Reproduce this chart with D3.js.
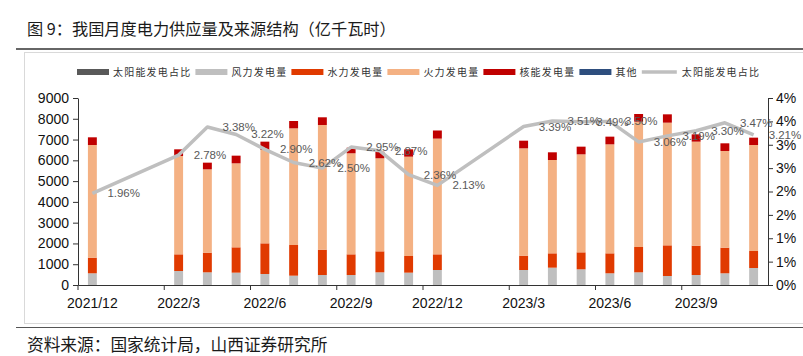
<!DOCTYPE html>
<html><head><meta charset="utf-8">
<script src="https://cdn.jsdelivr.net/npm/d3@7"></script>
<style>
html,body{margin:0;padding:0;background:#fff;}
svg{display:block;}
</style></head>
<body>
<svg id="chart" width="803" height="356"></svg>
<script>
// ---- data ----
const months = ["2021/12","2022/1","2022/2","2022/3","2022/4","2022/5","2022/6","2022/7","2022/8","2022/9","2022/10","2022/11","2022/12",
  "2023/1","2023/2","2023/3","2023/4","2023/5","2023/6","2023/7","2023/8","2023/9","2023/10","2023/11"];
const tickLabels = ["2021/12","2022/3","2022/6","2022/9","2022/12","2023/3","2023/6","2023/9"];
const windPower    = [563,null,null,674,610,594,530,449,481,481,610,594,722,null,null,722,834,754,563,610,433,481,563,818];
const hydroPower   = [752,null,null,802,946,1219,1475,1476,1220,995,1010,802,754,null,null,690,690,818,961,1219,1476,1412,1234,818];
const thermalPower = [5423,null,null,4733,4011,4043,4493,5615,6000,4863,4478,4781,5570,null,null,5166,4492,4717,5246,6032,5904,5006,4653,5102];
const nuclearPower = [370,null,null,321,321,369,401,353,370,270,318,353,390,null,null,368,370,369,370,369,401,352,369,354];
const solarShare   = [1.96,null,null,2.78,3.38,3.22,2.90,2.62,2.50,2.95,2.87,2.36,2.13,null,null,3.39,3.51,3.49,3.50,3.06,3.19,3.30,3.47,3.21];
const leftTicks  = [0,1000,2000,3000,4000,5000,6000,7000,8000,9000];
const rightTicks = [0,0.5,1,1.5,2,2.5,3,3.5,4];
const seriesNames = ["风力发电量","水力发电量","火力发电量","核能发电量"];
const seriesColors = ["#BFBFBF","#E03A00","#F4B183","#C00000"];
const legendItems = [
  {name:"太阳能发电占比", color:"#595959", type:"box"},
  {name:"风力发电量", color:"#BFBFBF", type:"box"},
  {name:"水力发电量", color:"#E03A00", type:"box"},
  {name:"火力发电量", color:"#F4B183", type:"box"},
  {name:"核能发电量", color:"#C00000", type:"box"},
  {name:"其他", color:"#2E4E7E", type:"box"},
  {name:"太阳能发电占比", color:"#BFBFBF", type:"line"}
];
const titleText = "图 9：我国月度电力供应量及来源结构（亿千瓦时）";
const sourceText = "资料来源：国家统计局，山西证券研究所";

// ---- layout ----
const svg = d3.select("#chart");
const plot = {left:78, right:768, top:98, bottom:285};
const cjk = "'Noto Sans CJK SC','Noto Sans',sans-serif";
const latin = "'Liberation Sans',Arial,sans-serif";

// title & separators
svg.append("text").attr("x",27).attr("y",35).attr("font-family",cjk).attr("font-size",16.2)
  .attr("fill","#1a1a1a").text(titleText);
svg.append("line").attr("x1",16).attr("x2",803).attr("y1",49).attr("y2",49).attr("stroke","#333").attr("stroke-width",1.5);
svg.append("rect").attr("x",24.5).attr("y",52.5).attr("width",800).attr("height",271).attr("fill","none").attr("stroke","#d9d9d9");
svg.append("line").attr("x1",16).attr("x2",803).attr("y1",327.5).attr("y2",327.5).attr("stroke","#555").attr("stroke-width",1.2);
svg.append("text").attr("x",27).attr("y",351).attr("font-family",cjk).attr("font-size",16.7)
  .attr("fill","#1a1a1a").text(sourceText);

// scales
const x = d3.scaleBand().domain(months).range([plot.left, plot.right]).paddingInner(0.69).paddingOuter(0.345);
const yL = d3.scaleLinear().domain([0,9000]).range([plot.bottom, plot.top]);
const yR = d3.scaleLinear().domain([0,4]).range([plot.bottom, plot.top]);

// stacked bars
const rows = months.map((m,i)=>({month:m, "风力发电量":windPower[i]||0, "水力发电量":hydroPower[i]||0,
  "火力发电量":thermalPower[i]||0, "核能发电量":nuclearPower[i]||0, has: windPower[i]!=null}));
const stack = d3.stack().keys(seriesNames)(rows);
const gBars = svg.append("g");
stack.forEach((layer,k)=>{
  gBars.selectAll(null).data(layer.filter(d=>d.data.has)).enter().append("rect")
    .attr("x",d=>x(d.data.month)).attr("width",x.bandwidth())
    .attr("y",d=>yL(d[1])).attr("height",d=>yL(d[0])-yL(d[1]))
    .attr("fill",seriesColors[k]);
});

// axes
const axL = svg.append("g").attr("transform",`translate(${plot.left},0)`)
  .call(d3.axisLeft(yL).tickValues(leftTicks).tickFormat(d3.format("d")).tickSize(5).tickSizeOuter(0).tickPadding(4));
const axR = svg.append("g").attr("transform",`translate(${plot.right},0)`)
  .call(d3.axisRight(yR).tickValues(rightTicks).tickSize(5).tickSizeOuter(0).tickPadding(3)
    .tickFormat(d=>Math.round(d)+"%"));
const axB = svg.append("g").attr("transform",`translate(0,${plot.bottom})`)
  .call(d3.axisBottom(x).tickValues(tickLabels).tickSize(0).tickSizeOuter(0).tickPadding(13));
// tick marks at category boundaries every 3 months
const gap = (x.step()-x.bandwidth())/2;
axB.selectAll(".bt").data(tickLabels).enter().append("line").attr("class","bt")
  .attr("x1",d=>x(d)-gap).attr("x2",d=>x(d)-gap).attr("y1",0).attr("y2",5).attr("stroke","#333");
[axL,axR,axB].forEach(a=>{
  a.selectAll("text").attr("font-family",latin).attr("font-size",14).attr("fill","#111");
  a.selectAll("path,line").attr("stroke","#333");
});

// solar share line
const pts = months.map((m,i)=>({month:m, v:solarShare[i]})).filter(d=>d.v!=null);
const lineGen = d3.line().x(d=>x(d.month)+x.bandwidth()/2).y(d=>yR(d.v));
svg.append("path").datum(pts).attr("d",lineGen).attr("fill","none")
  .attr("stroke","#BFBFBF").attr("stroke-width",3.5).attr("stroke-linejoin","round");
svg.selectAll(".lbl").data(pts).enter().append("text").attr("class","lbl")
  .attr("x",d=>x(d.month)+x.bandwidth()/2+15).attr("y",d=>yR(d.v)).attr("dy","0.35em")
  .attr("font-family",latin).attr("font-size",11.5).attr("fill","#595959")
  .text(d=>d.v.toFixed(2)+"%");

// legend
const gLeg = svg.append("g");
let lx = 77; const ly = 72;
legendItems.forEach(it=>{
  if(it.type==="box"){
    gLeg.append("rect").attr("x",lx).attr("y",ly-3).attr("width",32).attr("height",6).attr("fill",it.color);
  } else {
    gLeg.append("line").attr("x1",lx).attr("x2",lx+35).attr("y1",ly).attr("y2",ly).attr("stroke",it.color).attr("stroke-width",3.5);
  }
  lx += (it.type==="box"?32:36) + 4;
  const t = gLeg.append("text").attr("x",lx).attr("y",ly).attr("dy","0.35em")
    .attr("font-family",cjk).attr("font-size",10).attr("letter-spacing","1.2px").attr("fill","#333").text(it.name);
  lx += t.node().getComputedTextLength() + 4;
});
</script>
</body></html>
